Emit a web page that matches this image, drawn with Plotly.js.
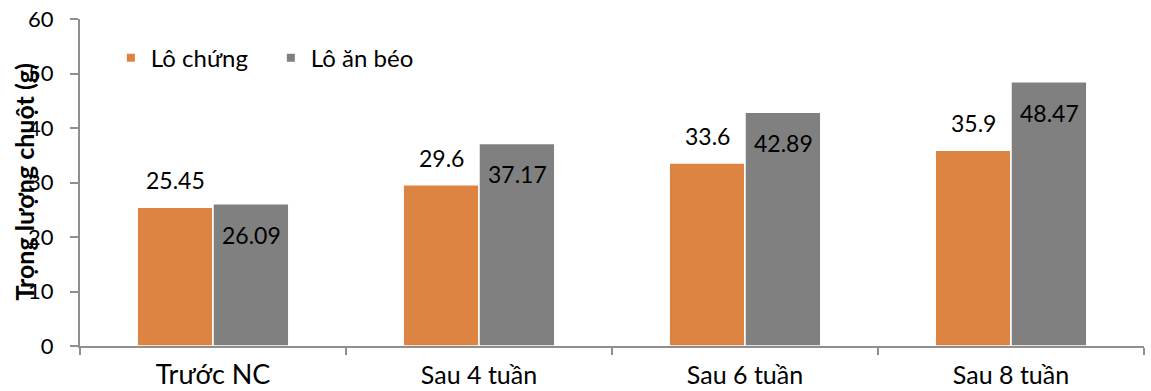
<!DOCTYPE html>
<html>
<head>
<meta charset="utf-8">
<script src="https://cdn.plot.ly/plotly-3.0.1.min.js"></script>
<style>
  html, body { margin: 0; padding: 0; background: #fff; }
  #chart { width: 1151px; height: 391px; }
</style>
</head>
<body>
<div id="chart"></div>
<script>
// Body weight of mice (g) per measurement point
const categories = ["Trước NC", "Sau 4 tuần", "Sau 6 tuần", "Sau 8 tuần"];
const seriesNames = ["Lô chứng", "Lô ăn béo"];
const controlValues = [25.45, 29.6, 33.6, 35.9];
const fatDietValues = [26.09, 37.17, 42.89, 48.47];
const yTickValues = [0, 10, 20, 30, 40, 50, 60];
const yTitle = "Trọng lượng chuột (g)";

const FONT = "Lato, 'Open Sans', sans-serif";
const ORANGE = "#dd8442";
const GREY = "#808080";
const AXIS = "#8f8f8f";
const COLORS = [ORANGE, GREY];

// first category label is drawn a bit larger
const tickText = categories.map((c, i) =>
  i === 0 ? '<span style="font-size:27px">' + c + '</span>' : c);

const barTraces = [controlValues, fatDietValues].map((vals, k) => ({
  type: "bar", name: seriesNames[k], x: categories, y: vals,
  marker: { color: COLORS[k], line: { color: "#ffffff", width: 1.5 } },
  showlegend: false, hoverinfo: "none"
}));

// legend entries with small square keys
const legendTraces = seriesNames.map((n, k) => ({
  type: "scatter", mode: "markers", name: n, x: [null], y: [null],
  marker: { symbol: "square", size: 8, color: COLORS[k], line: { width: 0 } },
  hoverinfo: "none"
}));

// value labels: above the orange bars, inside the top of the grey bars
const annotations = [];
categories.forEach((c, i) => {
  annotations.push({
    x: c, y: controlValues[i], xref: "x", yref: "y",
    text: String(controlValues[i]), showarrow: false,
    xanchor: "center", yanchor: "bottom", xshift: -38, yshift: 11,
    font: { family: FONT, size: 23, color: "#000" }
  });
  annotations.push({
    x: c, y: fatDietValues[i], xref: "x", yref: "y",
    text: String(fatDietValues[i]), showarrow: false,
    xanchor: "center", yanchor: "top", xshift: 38, yshift: -15,
    font: { family: FONT, size: 23, color: "#000" }
  });
});
annotations.push({
  x: 0, y: 0.5, xref: "paper", yref: "paper", xshift: -57,
  text: "<b>" + yTitle + "</b>", textangle: -90, showarrow: false,
  xanchor: "center", yanchor: "middle",
  font: { family: FONT, size: 25, color: "#000" }
});

const layout = {
  width: 1151, height: 391,
  margin: { l: 80, r: 7, t: 19, b: 45, pad: 0 },
  paper_bgcolor: "#fff", plot_bgcolor: "#fff",
  font: { family: FONT, size: 20, color: "#000" },
  barmode: "group", bargap: 0.43, bargroupgap: 0,
  showlegend: true,
  legend: {
    orientation: "h", x: 0.029, xanchor: "left", y: 0.88, yanchor: "middle",
    font: { family: FONT, size: 24, color: "#000" },
    bgcolor: "rgba(0,0,0,0)", entrywidth: 115, itemclick: false
  },
  xaxis: {
    type: "category", range: [-0.5, 3.5],
    tickmode: "array", tickvals: categories, ticktext: tickText,
    tickson: "boundaries", ticks: "outside", ticklen: 7, tickwidth: 2, tickcolor: AXIS,
    showline: true, linecolor: AXIS, linewidth: 2, showgrid: false, zeroline: false,
    tickfont: { family: FONT, size: 25, color: "#000" }, ticklabelstandoff: 6,
    fixedrange: true
  },
  yaxis: {
    range: [0, 60], tickmode: "array", tickvals: yTickValues,
    ticks: "outside", ticklen: 8, tickwidth: 2, tickcolor: AXIS,
    showline: true, linecolor: AXIS, linewidth: 2, showgrid: false, zeroline: false,
    tickfont: { family: FONT, size: 22, color: "#000" }, ticklabelstandoff: 12,
    fixedrange: true
  },
  annotations: annotations
};

Plotly.newPlot("chart", barTraces.concat(legendTraces), layout,
  { displayModeBar: false, staticPlot: true });
</script>
</body>
</html>
